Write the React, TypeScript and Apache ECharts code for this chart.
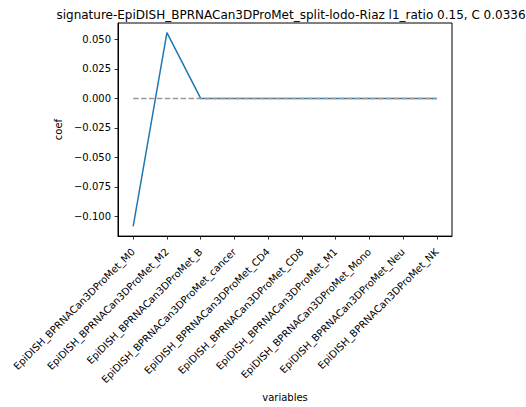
import { useEffect, useRef } from 'react';
import * as echarts from 'echarts';

const variables = [
  'EpiDISH_BPRNACan3DProMet_M0',
  'EpiDISH_BPRNACan3DProMet_M2',
  'EpiDISH_BPRNACan3DProMet_B',
  'EpiDISH_BPRNACan3DProMet_cancer',
  'EpiDISH_BPRNACan3DProMet_CD4',
  'EpiDISH_BPRNACan3DProMet_CD8',
  'EpiDISH_BPRNACan3DProMet_M1',
  'EpiDISH_BPRNACan3DProMet_Mono',
  'EpiDISH_BPRNACan3DProMet_Neu',
  'EpiDISH_BPRNACan3DProMet_NK',
];
const coef = [-0.1086, 0.0558, 0, 0, 0, 0, 0, 0, 0, 0];
const yTicks = [-0.1, -0.075, -0.05, -0.025, 0, 0.025, 0.05];
const titleText = 'signature-EpiDISH_BPRNACan3DProMet_split-lodo-Riaz l1_ratio 0.15, C 0.0336';

const FONT = '"DejaVu Sans", sans-serif';

export default function App() {
  const chartRef = useRef<HTMLDivElement>(null);

  useEffect(() => {
    document.body.style.margin = '0';
    if (!chartRef.current) return;
    const chart = echarts.init(chartRef.current, null, { renderer: 'svg' });

    const xIdx = variables.map((_, i) => i);
    const fmtY = (v: number) => {
      const s = Math.abs(v) < 1e-9 ? '0.000' : v.toFixed(3);
      return s.replace('-', '\u2212');
    };

    chart.setOption({
      animation: false,
      backgroundColor: '#fff',
      textStyle: { fontFamily: FONT },
      title: {
        text: titleText,
        left: 286,
        top: 4,
        textAlign: 'center',
        textStyle: { fontFamily: FONT, fontSize: 12, fontWeight: 'normal', color: '#000' },
      },
      grid: {
        left: 118,
        right: 74,
        top: 23,
        bottom: 167,
        show: true,
        borderColor: '#000',
        borderWidth: 1,
        backgroundColor: 'transparent',
      },
      xAxis: {
        type: 'value',
        min: -0.45,
        max: 9.45,
        name: 'variables',
        nameLocation: 'middle',
        nameGap: 153,
        nameTextStyle: { fontFamily: FONT, fontSize: 10, color: '#000' },
        splitLine: { show: false },
        axisLine: { show: true, onZero: false, lineStyle: { color: '#000', width: 1 } },
        axisTick: {
          show: true,
          length: 3.5,
          customValues: xIdx,
          lineStyle: { color: '#000', width: 0.8 },
        },
        axisLabel: {
          customValues: xIdx,
          rotate: 45,
          margin: 14,
          fontFamily: FONT,
          fontSize: 10,
          color: '#000',
          formatter: (v: number) => variables[Math.round(v)] ?? '',
        },
      },
      yAxis: {
        type: 'value',
        min: -0.1168,
        max: 0.064,
        name: 'coef',
        nameLocation: 'middle',
        nameGap: 47,
        nameRotate: 90,
        nameTextStyle: { fontFamily: FONT, fontSize: 10, color: '#000' },
        splitLine: { show: false },
        axisLine: { show: true, onZero: false, lineStyle: { color: '#000', width: 1 } },
        axisTick: {
          show: true,
          length: 3.5,
          customValues: yTicks,
          lineStyle: { color: '#000', width: 0.8 },
        },
        axisLabel: {
          customValues: yTicks,
          margin: 7,
          fontFamily: FONT,
          fontSize: 10,
          color: '#000',
          formatter: fmtY,
        },
      },
      series: [
        {
          type: 'line',
          data: coef.map((v, i) => [i, v]),
          showSymbol: false,
          symbol: 'none',
          lineStyle: { color: '#1f77b4', width: 1.5 },
          z: 2,
        },
        {
          type: 'line',
          data: [
            [0, 0],
            [variables.length - 1, 0],
          ],
          showSymbol: false,
          symbol: 'none',
          lineStyle: { color: '#999999', width: 1.5, type: [5.5, 2.4] },
          z: 3,
        },
      ],
    });

    return () => {
      chart.dispose();
    };
  }, []);

  return <div ref={chartRef} style={{ width: '526px', height: '407px' }}></div>;
}
